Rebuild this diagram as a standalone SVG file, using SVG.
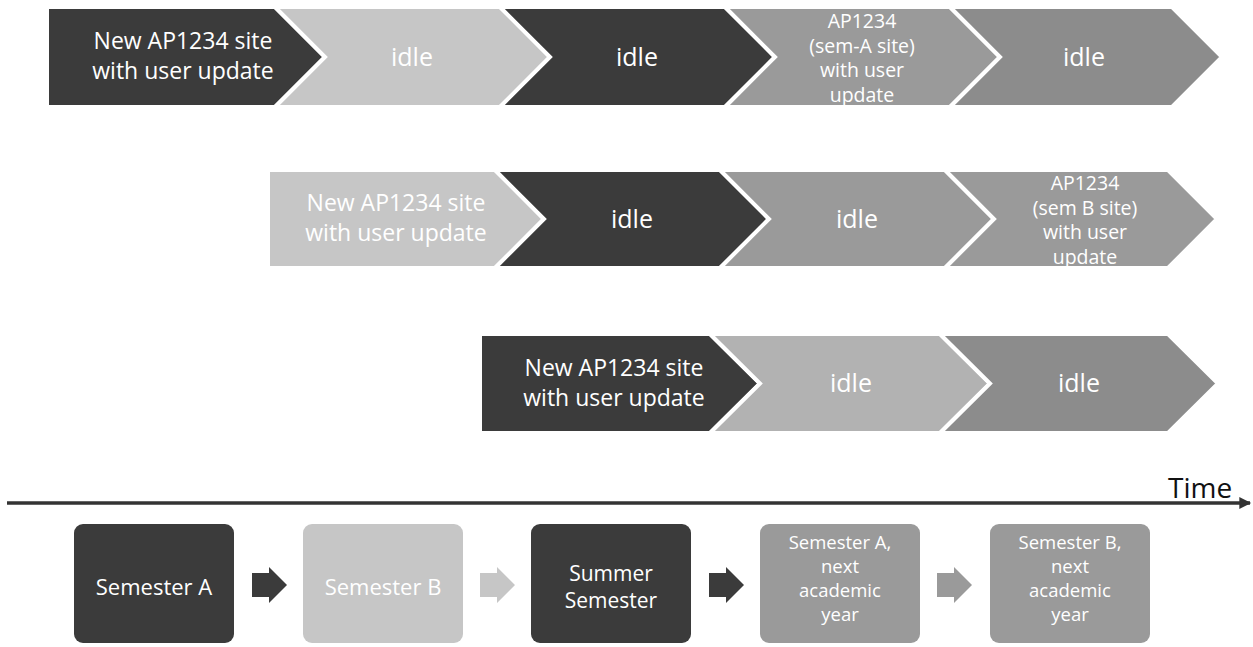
<svg xmlns="http://www.w3.org/2000/svg" width="1253" height="647" viewBox="0 0 1253 647">
<defs>
<style>
.ch{stroke:#ffffff;stroke-width:4;stroke-linejoin:miter}
.dk{fill:#3b3b3b}
.lt{fill:#c6c6c6}
.md{fill:#9a9a9a}
.md2{fill:#8c8c8c}
.lt2{fill:#b2b2b2}
.t{font-family:"Open Sans","Liberation Sans",sans-serif;fill:#ffffff;text-anchor:middle}
.t23{font-size:23px}
.t25{font-size:25px}
.t19{font-size:19.5px}
.t22{font-size:22px}
.t21{font-size:21px}
.t20{font-size:18.5px}
.time{font-family:"Open Sans","Liberation Sans",sans-serif;font-size:28px;fill:#111111}
.box{stroke:none}
</style>
<marker id="ah" viewBox="0 0 10 10" refX="9" refY="5" markerWidth="4" markerHeight="3.4" orient="auto" markerUnits="strokeWidth">
<path d="M0 0 L10 5 L0 10 Z" fill="#333333"/>
</marker>
</defs>
<rect width="1253" height="647" fill="#ffffff"/>

<!-- Row 1 -->
<g id="r1s1"><path class="ch dk" d="M47 7 H275 L325 57 L275 107 H47 Z"/>
<text class="t t23" x="183" y="49">New AP1234 site</text><text class="t t23" x="183" y="79">with user update</text></g>
<g id="r1s2"><path class="ch lt" d="M275 7 H500 L550 57 L500 107 H275 L325 57 Z"/>
<text class="t t25" x="412" y="66">idle</text></g>
<g id="r1s3"><path class="ch dk" d="M500 7 H725 L775 57 L725 107 H500 L550 57 Z"/>
<text class="t t25" x="637" y="66">idle</text></g>
<g id="r1s4"><path class="ch md" d="M725 7 H950 L1000 57 L950 107 H725 L775 57 Z"/>
<text class="t t19" x="862" y="28">AP1234</text><text class="t t19" x="862" y="52.5">(sem-A site)</text><text class="t t19" x="862" y="77">with user</text><text class="t t19" x="862" y="101.5">update</text></g>
<g id="r1s5"><path class="ch md2" d="M950 7 H1172 L1222 57 L1172 107 H950 L1000 57 Z"/>
<text class="t t25" x="1084" y="66">idle</text></g>

<!-- Row 2 -->
<g id="r2s1"><path class="ch lt" d="M268 170 H495 L544 219 L495 268 H268 Z"/>
<text class="t t23" x="396" y="211">New AP1234 site</text><text class="t t23" x="396" y="241">with user update</text></g>
<g id="r2s2"><path class="ch dk" d="M495 170 H720 L769 219 L720 268 H495 L544 219 Z"/>
<text class="t t25" x="632" y="228">idle</text></g>
<g id="r2s3"><path class="ch md" d="M720 170 H945 L994 219 L945 268 H720 L769 219 Z"/>
<text class="t t25" x="857" y="228">idle</text></g>
<g id="r2s4"><path class="ch md" d="M945 170 H1168 L1217 219 L1168 268 H945 L994 219 Z"/>
<text class="t t19" x="1085" y="190">AP1234</text><text class="t t19" x="1085" y="214.5">(sem B site)</text><text class="t t19" x="1085" y="239">with user</text><text class="t t19" x="1085" y="263.5">update</text></g>

<!-- Row 3 -->
<g id="r3s1"><path class="ch dk" d="M480 334 H710 L760 383.5 L710 433 H480 Z"/>
<text class="t t23" x="614" y="376">New AP1234 site</text><text class="t t23" x="614" y="406">with user update</text></g>
<g id="r3s2"><path class="ch lt2" d="M710 334 H940 L990 383.5 L940 433 H710 L760 383.5 Z"/>
<text class="t t25" x="851" y="392">idle</text></g>
<g id="r3s3"><path class="ch md2" d="M940 334 H1168 L1218 383.5 L1168 433 H940 L990 383.5 Z"/>
<text class="t t25" x="1079" y="392">idle</text></g>

<!-- Timeline -->
<g id="timeline">
<line x1="7" y1="503" x2="1250" y2="503" stroke="#333333" stroke-width="3.5" marker-end="url(#ah)"/>
<text class="time" x="1168" y="498">Time</text>
</g>

<!-- Semester boxes -->
<g id="semA"><rect class="box dk" x="74" y="524" width="160" height="119" rx="9"/>
<text class="t t22" x="154" y="595">Semester A</text></g>
<g id="semB"><rect class="box lt" x="303" y="524" width="160" height="119" rx="9"/>
<text class="t t22" x="383" y="595">Semester B</text></g>
<g id="summer"><rect class="box dk" x="531" y="524" width="160" height="119" rx="9"/>
<text class="t t21" x="611" y="581">Summer</text><text class="t t21" x="611" y="608">Semester</text></g>
<g id="semAnext"><rect class="box md" x="760" y="524" width="160" height="119" rx="9"/>
<text class="t t20" x="840" y="549">Semester A,</text><text class="t t20" x="840" y="573">next</text><text class="t t20" x="840" y="597">academic</text><text class="t t20" x="840" y="621">year</text></g>
<g id="semBnext"><rect class="box md" x="990" y="524" width="160" height="119" rx="9"/>
<text class="t t20" x="1070" y="549">Semester B,</text><text class="t t20" x="1070" y="573">next</text><text class="t t20" x="1070" y="597">academic</text><text class="t t20" x="1070" y="621">year</text></g>

<!-- Connectors -->
<g id="connectors">
<path class="dk" d="M252 573 H269 V567 L287 585 L269 603 V597 H252 Z"/>
<path class="lt" d="M480 573 H497 V567 L515 585 L497 603 V597 H480 Z"/>
<path class="dk" d="M709 573 H726 V567 L744 585 L726 603 V597 H709 Z"/>
<path class="md" d="M937 573 H954 V567 L972 585 L954 603 V597 H937 Z"/>
</g>
</svg>
